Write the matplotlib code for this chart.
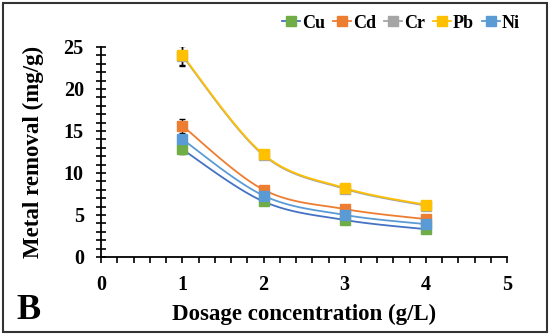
import numpy as np
import matplotlib
matplotlib.use('Agg')
import matplotlib.pyplot as plt
from matplotlib.patches import Rectangle
from matplotlib.ticker import MultipleLocator

plt.rcParams['font.family'] = ['Liberation Serif', 'DejaVu Serif']
plt.rcParams['font.weight'] = 'bold'

# data
dosage = [1, 2, 3, 4]
metals = ['Cu', 'Cd', 'Cr', 'Pb', 'Ni']
removal = {
    'Cu': [12.8, 6.6, 4.4, 3.3],
    'Cd': [15.6, 8.0, 5.7, 4.5],
    'Cr': [23.9, 12.1, 8.1, 6.1],
    'Pb': [24.0, 12.2, 8.2, 6.2],
    'Ni': [14.0, 7.3, 5.0, 3.9],
}
errors = {
    'Cu': [0.5, 0.2, 0.2, 0.2],
    'Cd': [0.8, 0.3, 0.2, 0.2],
    'Cr': [1.2, 0.5, 0.2, 0.2],
    'Pb': [1.2, 0.5, 0.2, 0.2],
    'Ni': [0.5, 0.2, 0.2, 0.2],
}
line_colors = {'Cu': '#4472C4', 'Cd': '#ED7D31', 'Cr': '#A5A5A5',
               'Pb': '#FFC000', 'Ni': '#5B9BD5'}
marker_colors = {'Cu': '#70AD47', 'Cd': '#ED7D31', 'Cr': '#A5A5A5',
                 'Pb': '#FFC000', 'Ni': '#5B9BD5'}
draw_order = ['Cr', 'Pb', 'Cd', 'Cu', 'Ni']


def smooth(x, y, n=40):
    """Excel-like smoothed line (Catmull-Rom as cubic Bezier)."""
    x = np.asarray(x, float); y = np.asarray(y, float)
    px, py = [], []
    for i in range(len(x) - 1):
        x0, y0 = (x[i-1], y[i-1]) if i > 0 else (x[i], y[i])
        x3, y3 = (x[i+2], y[i+2]) if i + 2 < len(x) else (x[i+1], y[i+1])
        c1 = (x[i] + (x[i+1] - x0) / 6, y[i] + (y[i+1] - y0) / 6)
        c2 = (x[i+1] - (x3 - x[i]) / 6, y[i+1] - (y3 - y[i]) / 6)
        t = np.linspace(0, 1, n)
        bx = ((1-t)**3*x[i] + 3*(1-t)**2*t*c1[0] + 3*(1-t)*t**2*c2[0] + t**3*x[i+1])
        by = ((1-t)**3*y[i] + 3*(1-t)**2*t*c1[1] + 3*(1-t)*t**2*c2[1] + t**3*y[i+1])
        px.extend(bx); py.extend(by)
    return np.array(px), np.array(py)


fig = plt.figure(figsize=(5.5, 3.35), dpi=100)
ax = fig.add_axes([0.184, 0.233, 0.738, 0.627])

for m in draw_order:
    sx, sy = smooth(dosage, removal[m])
    ax.plot(sx, sy, color=line_colors[m], lw=1.3, zorder=2)
    ax.errorbar(dosage, removal[m], yerr=errors[m], fmt='none',
                ecolor='black', elinewidth=1, capsize=2, zorder=3)
    ax.plot(dosage, removal[m], ls='none', marker='s', ms=7,
            color=marker_colors[m], zorder=4)

# legend handles in original order
handles = []
for m in metals:
    h, = ax.plot([], [], color=line_colors[m], lw=1.3, marker='s', ms=6.5,
                 markerfacecolor=marker_colors[m], markeredgecolor=marker_colors[m])
    handles.append(h)
fig.legend(handles, metals, loc='upper right', bbox_to_anchor=(0.975, 1.005),
           ncol=5, frameon=False, handlelength=1.0, handletextpad=0.1,
           columnspacing=0.45, prop={'size': 13, 'weight': 'bold'})

ax.set_xlim(0, 5)
ax.set_ylim(0, 25)
ax.xaxis.set_major_locator(MultipleLocator(1))
ax.xaxis.set_minor_locator(MultipleLocator(0.2))
ax.yaxis.set_major_locator(MultipleLocator(5))
ax.yaxis.set_minor_locator(MultipleLocator(1))
ax.tick_params(axis='both', which='both', direction='inout', width=1.2,
               labelsize=14.5, colors='black')
ax.tick_params(axis='y', which='both', length=7, pad=9)
ax.tick_params(axis='x', which='both', direction='out', length=4, pad=9)
for lab in ax.get_xticklabels() + ax.get_yticklabels():
    lab.set_fontweight('bold')
for s in ['top', 'right']:
    ax.spines[s].set_visible(False)
for s in ['left', 'bottom']:
    ax.spines[s].set_linewidth(1.3)

ax.set_xlabel('Dosage concentration (g/L)', fontsize=16.5, fontweight='bold', labelpad=6)
ax.set_ylabel('Metal removal (mg/g)', fontsize=16.5, fontweight='bold', labelpad=14)

fig.text(0.03, 0.025, 'B', fontsize=26, fontweight='bold', ha='left', va='bottom')
fig.patches.append(Rectangle((0.005, 0.01), 0.99, 0.98, transform=fig.transFigure,
                             fill=False, edgecolor='#333333', lw=1.5))

fig.savefig('out.png', dpi=100)
